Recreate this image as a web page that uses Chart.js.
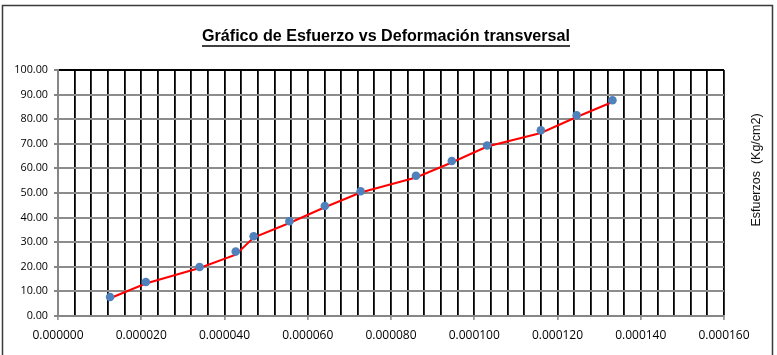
<!DOCTYPE html>
<html>
<head>
<meta charset="utf-8">
<script src="https://cdn.jsdelivr.net/npm/chart.js@4.4.0/dist/chart.umd.min.js"></script>
<style>
  html, body { margin: 0; padding: 0; background: #fff; }
  #wrap { width: 777px; height: 355px; }
</style>
</head>
<body>
<div id="wrap"><canvas id="c" width="777" height="355"></canvas></div>
<script>
// Texts
const chartTitle = 'Gráfico de Esfuerzo vs Deformación transversal';
const yAxisTitle = 'Esfuerzos  (Kg/cm2)';

// Measured points: transverse strain vs stress (kg/cm2)
const deformacion = [0.0000125, 0.0000211, 0.0000340, 0.0000427, 0.0000470, 0.0000556, 0.0000641,
                     0.0000727, 0.0000860, 0.0000946, 0.0001031, 0.0001160, 0.0001246, 0.0001332];
const esfuerzo = [7.7, 13.8, 19.9, 26.2, 32.4, 38.5, 44.7, 50.7, 57.0, 63.0, 69.3, 75.5, 81.6, 87.7];
// Red connecting line values at the same strains
const esfuerzoLinea = [7.2, 13.2, 19.5, 24.9, 31.9, 37.8, 44.2, 50.2, 56.3, 62.4, 68.9, 74.4, 80.9, 87.0];

// Axis ranges
const xMin = 0, xMax = 0.00016, xStep = 0.000004, xLabelEvery = 5;
const yMin = 0, yMax = 100, yStep = 10;

const toPoints = (xs, ys) => xs.map((x, i) => ({ x: x, y: ys[i] }));

const decorations = {
  id: 'decorations',
  beforeDraw(chart) {
    const ctx = chart.ctx;
    ctx.save();
    ctx.fillStyle = '#fff';
    ctx.fillRect(0, 0, chart.width, chart.height);
    // chart object frame
    ctx.strokeStyle = '#3a3a3a';
    ctx.lineWidth = 1.5;
    ctx.beginPath();
    ctx.moveTo(2.5, 400);
    ctx.lineTo(2.5, 5.5);
    ctx.lineTo(772.5, 5.5);
    ctx.lineTo(772.5, 400);
    ctx.stroke();
    ctx.restore();
  },
  afterDraw(chart) {
    const ctx = chart.ctx;
    ctx.save();
    // title, bold and underlined
    ctx.font = 'bold 16px "Liberation Sans", Arial, sans-serif';
    ctx.fillStyle = '#000';
    ctx.textBaseline = 'alphabetic';
    ctx.textAlign = 'left';
    const w = ctx.measureText(chartTitle).width;
    const targetW = 368, left = 202, base = 41;
    ctx.save();
    ctx.translate(left, base);
    ctx.scale(targetW / w, 1);
    ctx.fillText(chartTitle, 0, 0);
    ctx.restore();
    ctx.strokeStyle = '#000';
    ctx.lineWidth = 1.5;
    ctx.beginPath();
    ctx.moveTo(left, base + 5);
    ctx.lineTo(left + targetW, base + 5);
    ctx.stroke();

    // vertical axis title on the right
    ctx.translate(757, 170);
    ctx.rotate(-Math.PI / 2);
    ctx.font = '12.5px "Liberation Sans", Arial, sans-serif';
    ctx.textAlign = 'center';
    ctx.textBaseline = 'middle';
    ctx.fillStyle = '#111';
    ctx.fillText(yAxisTitle, 0, 0);
    ctx.restore();
  }
};

new Chart(document.getElementById('c'), {
  type: 'scatter',
  data: {
    datasets: [
      {
        label: 'Esfuerzo',
        data: toPoints(deformacion, esfuerzo),
        showLine: false,
        pointRadius: 4.3,
        pointHoverRadius: 4.3,
        pointBackgroundColor: '#4f81bd',
        pointBorderColor: '#4f81bd',
        pointBorderWidth: 0,
        order: 0
      },
      {
        label: 'Línea',
        data: toPoints(deformacion, esfuerzoLinea),
        showLine: true,
        borderColor: '#ff0000',
        borderWidth: 2,
        pointRadius: 0,
        tension: 0,
        order: 1
      }
    ]
  },
  options: {
    responsive: false,
    animation: false,
    events: [],
    layout: { padding: { top: 70, right: 53, left: 0, bottom: 0 } },
    plugins: {
      legend: { display: false },
      title: { display: false },
      tooltip: { enabled: false }
    },
    scales: {
      x: {
        type: 'linear',
        min: xMin,
        max: xMax,
        afterFit(s) { s.height = 39; },
        ticks: {
          stepSize: xStep,
          autoSkip: false,
          maxRotation: 0,
          minRotation: 0,
          padding: 8,
          color: '#000',
          font: { family: '"Open Sans", "Liberation Sans", sans-serif', size: 12 },
          callback: (v, i) => (i % xLabelEvery === 0 ? Number(v).toFixed(6) : '')
        },
        grid: {
          color: '#000',
          lineWidth: 1.8,
          tickLength: 4,
          tickWidth: 1.5,
          tickColor: (c) => (c.index % xLabelEvery === 0 ? '#868686' : 'rgba(0,0,0,0)')
        },
        border: { display: true, color: '#868686', width: 2 }
      },
      y: {
        type: 'linear',
        min: yMin,
        max: yMax,
        afterFit(s) { s.width = 58; },
        ticks: {
          stepSize: yStep,
          padding: 6,
          color: '#000',
          font: { family: '"Open Sans", "Liberation Sans", sans-serif', size: 10.8 },
          callback: (v) => Number(v).toFixed(2)
        },
        grid: {
          color: (c) => (c.tick && c.tick.value === yMax ? '#000' : '#8c8c8c'),
          lineWidth: 2,
          tickLength: 4,
          tickColor: '#868686'
        },
        border: { display: true, color: '#868686', width: 2 }
      }
    }
  },
  plugins: [decorations]
});
</script>
</body>
</html>
